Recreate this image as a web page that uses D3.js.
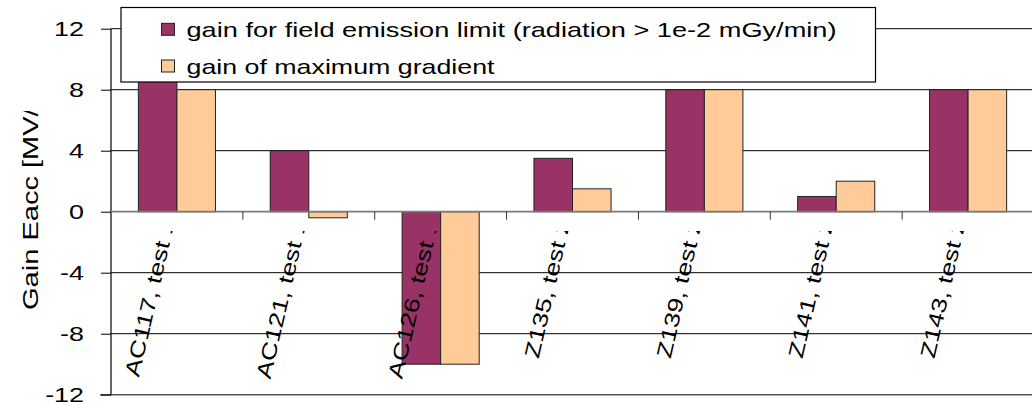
<!DOCTYPE html>
<html>
<head>
<meta charset="utf-8">
<script src="https://cdn.jsdelivr.net/npm/d3@7/dist/d3.min.js"></script>
<style>
  html, body { margin: 0; padding: 0; background: #fff; }
  svg { display: block; }
  text { font-family: "Liberation Sans", Arial, sans-serif; fill: #000; }
</style>
</head>
<body>
<svg id="chart" width="1032" height="402"></svg>
<script>
// Cavity tests and the gain in accelerating gradient after treatment
const categories = ["AC117, test 1", "AC121, test 1", "AC126, test 1",
                    "Z135, test 2", "Z139, test 2", "Z141, test 2", "Z143, test 2"];
const fieldEmissionGain = [10, 4, -10, 3.5, 8, 1, 8];
const maxGradientGain   = [8, -0.4, -10, 1.5, 8, 2, 8];
const seriesNames = ["gain for field emission limit (radiation > 1e-2 mGy/min)",
                     "gain of maximum gradient"];
const seriesColors = ["#993366", "#FFCC99"];
const yTicks = [-12, -8, -4, 0, 4, 8, 12];
const yTitle = "Gain Eacc [MV/m]";

const svg = d3.select("#chart");
const FS = 21, STRETCH = 1.28;

const x0 = d3.scaleBand().domain(categories).range([111, 1034]).padding(0);
const x1 = d3.scaleBand().domain([0, 1]).range([0, x0.bandwidth()])
  .paddingInner(0).paddingOuter(0.71);
const y = d3.scaleLinear().domain([-12, 12]).range([394.7, 28.7]);

const xLeft = x0.range()[0], xRight = 1032;

// clip regions
const defs = svg.append("defs");
defs.append("clipPath").attr("id", "labelClip")
  .append("rect").attr("x", 0).attr("y", 231).attr("width", 1032).attr("height", 171);
defs.append("clipPath").attr("id", "titleClip")
  .append("rect").attr("x", 0).attr("y", 111).attr("width", 100).attr("height", 291);

// horizontal gridlines
svg.append("g").selectAll("line")
  .data(yTicks.filter(d => d !== 0 && d !== -12))
  .join("line")
  .attr("x1", xLeft).attr("x2", xRight)
  .attr("y1", d => y(d)).attr("y2", d => y(d))
  .attr("stroke", "#000").attr("stroke-width", 1);

// bottom frame line
svg.append("line")
  .attr("x1", 100).attr("x2", xRight)
  .attr("y1", y(-12)).attr("y2", y(-12))
  .attr("stroke", "#555").attr("stroke-width", 1.6);

// y axis with ticks on the left
const yAxis = d3.axisLeft(y).tickValues(yTicks).tickSize(10).tickFormat("");
const yg = svg.append("g").attr("transform", `translate(${xLeft},0)`).call(yAxis);
yg.select(".domain").remove();
yg.selectAll(".tick line").attr("stroke", "#000");
svg.append("line").attr("x1", xLeft).attr("x2", xLeft)
  .attr("y1", y(12)).attr("y2", y(-12)).attr("stroke", "#000").attr("stroke-width", 1.2);

// tick labels, drawn wide
svg.append("g").selectAll("g")
  .data(yTicks).join("g")
  .attr("transform", d => `translate(84,${y(d)}) scale(${STRETCH},1)`)
  .append("text")
  .attr("text-anchor", "end").attr("dy", "0.35em")
  .style("font-size", FS + "px")
  .text(d => d3.format("d")(d).replace("\u2212", "-"));

// bars
const series = [fieldEmissionGain, maxGradientGain];
const groups = svg.append("g").selectAll("g")
  .data(categories).join("g")
  .attr("transform", d => `translate(${x0(d)},0)`);
groups.selectAll("rect")
  .data((d, i) => series.map((s, k) => ({ k, v: s[i] })))
  .join("rect")
  .attr("x", d => x1(d.k))
  .attr("width", x1.bandwidth())
  .attr("y", d => y(Math.max(0, d.v)))
  .attr("height", d => Math.abs(y(d.v) - y(0)))
  .attr("fill", d => seriesColors[d.k])
  .attr("stroke", "#222").attr("stroke-width", 1);

// category axis at zero
svg.append("line")
  .attr("x1", xLeft).attr("x2", xRight)
  .attr("y1", y(0)).attr("y2", y(0))
  .attr("stroke", "#7a7a7a").attr("stroke-width", 1.8);
svg.append("g").selectAll("line")
  .data(categories.slice(1)).join("line")
  .attr("x1", d => x0(d)).attr("x2", d => x0(d))
  .attr("y1", y(0)).attr("y2", y(0) + 8)
  .attr("stroke", "#333").attr("stroke-width", 1);

// slanted category labels
svg.append("g").attr("clip-path", "url(#labelClip)")
  .selectAll("g").data(categories).join("g")
  .attr("transform", d => `translate(${x0(d) + x0.bandwidth() / 2 - 2},221) rotate(-77) scale(${STRETCH},1)`)
  .append("text")
  .attr("text-anchor", "end")
  .style("font-size", FS + "px")
  .text(d => d);

// y axis title
svg.append("g").attr("clip-path", "url(#titleClip)")
  .append("g")
  .attr("transform", `translate(38,310) rotate(-90) scale(1.32,1)`)
  .append("text")
  .attr("text-anchor", "start")
  .style("font-size", "22px")
  .text(yTitle);

// legend
const legend = svg.append("g");
legend.append("rect")
  .attr("x", 121).attr("y", 7.5).attr("width", 754.5).attr("height", 74.5)
  .attr("fill", "#fff").attr("stroke", "#000").attr("stroke-width", 1.2);
const legendWidths = [650, 308];
const legendRows = legend.selectAll("g.row")
  .data(seriesNames).join("g").attr("class", "row")
  .attr("transform", (d, i) => `translate(0,${i === 0 ? 37.3 : 74})`);
legendRows.append("rect")
  .attr("x", 161.5).attr("y", -14).attr("width", 13).attr("height", 12)
  .attr("fill", (d, i) => seriesColors[i])
  .attr("stroke", "#222").attr("stroke-width", 1);
legendRows.append("text")
  .attr("x", 186.5).attr("y", 0)
  .attr("textLength", (d, i) => legendWidths[i])
  .attr("lengthAdjust", "spacingAndGlyphs")
  .style("font-size", "21px")
  .text(d => d);
</script>
</body>
</html>
